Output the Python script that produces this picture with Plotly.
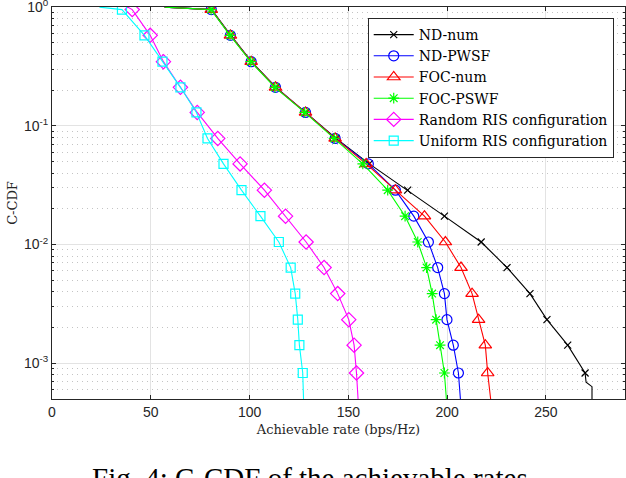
import plotly.graph_objects as go

# C-CDF levels at which the markers sit (shared by every curve)
ccdf_levels = [0.953, 0.578, 0.347, 0.211, 0.1296, 0.0783, 0.0478, 0.0287,
               0.01734, 0.0105, 0.0064, 0.00386, 0.00233, 0.00142, 0.000828]

# achievable rate (bps/Hz) at each level
nd_num_rate = [80.8, 90.5, 101.0, 113.4, 128.6, 143.8, 160.6, 180.0,
               198.6, 217.2, 230.3, 241.9, 250.5, 261.0, 269.8]
nd_pwsf_rate = [80.6, 90.3, 100.8, 113.1, 128.3, 143.3, 160.1, 173.8,
                183.1, 190.5, 195.2, 198.6, 199.9, 203.1, 205.7]
foc_num_rate = [80.6, 90.3, 100.8, 113.1, 128.3, 143.3, 159.0, 173.8,
                188.5, 199.1, 207.0, 212.6, 215.9, 219.3, 220.5]
foc_pswf_rate = [80.5, 90.1, 100.6, 112.8, 127.9, 142.8, 157.3, 169.9,
                 178.7, 185.1, 189.6, 192.4, 194.4, 196.4, 198.6]
random_rate = [40.6, 49.7, 56.4, 65.0, 73.5, 83.9, 95.2, 107.5,
               118.2, 128.6, 137.7, 144.6, 150.2, 152.9, 154.1]
uniform_rate = [35.4, 46.8, 55.9, 65.0, 73.1, 78.7, 86.8, 95.9,
                105.5, 114.8, 120.8, 123.1, 124.4, 125.2, 126.9]

# where each curve leaves the top (C-CDF = 1) and the bottom of the axes
start_rate = {'nd_num': 57.0, 'nd_pwsf': 57.0, 'foc_num': 57.0, 'foc_pswf': 57.0,
              'random': 38.3, 'uniform': 24.0}
end_rate = {'nd_num': 273.3, 'nd_pwsf': 206.7, 'foc_num': 222.0, 'foc_pswf': 199.6,
            'random': 154.9, 'uniform': 127.3}
# tail of ND-num (empirical steps near the bottom)
nd_num_tail_rate = [270.3, 273.3]
nd_num_tail_ccdf = [0.000692, 0.000635]

y_bottom = 5e-4

series = [
  ('ND-num', 'nd_num', nd_num_rate, '#000000', 'x-thin-open', 7),
  ('ND-PWSF', 'nd_pwsf', nd_pwsf_rate, '#0000ff', 'circle-open', 10),
  ('FOC-num', 'foc_num', foc_num_rate, '#ff0000', 'triangle-up-open', 11),
  ('FOC-PSWF', 'foc_pswf', foc_pswf_rate, '#00ff00', 'asterisk-open', 9),
  ('Random RIS configuration', 'random', random_rate, '#ff00ff', 'diamond-open', 11),
  ('Uniform RIS configuration', 'uniform', uniform_rate, '#00ffff', 'square-open', 9),
]

fig = go.Figure()

for name, key, rate, color, symbol, size in series:
  x = [start_rate[key]] + rate
  y = [1.0] + ccdf_levels
  if key == 'nd_num':
    x += nd_num_tail_rate
    y += nd_num_tail_ccdf
  x.append(end_rate[key])
  y.append(y_bottom)
  marker = dict(symbol=symbol, size=size, color=color,
                line=dict(color=color, width=1.2))
  # curve
  fig.add_trace(go.Scatter(
    x=x, y=y, mode='lines', showlegend=False, hoverinfo='skip',
    line=dict(color=color, width=1.1)
  ))
  # markers
  fig.add_trace(go.Scatter(
    name=name, x=rate, y=ccdf_levels, mode='markers',
    showlegend=False, marker=marker
  ))
  # legend entry (line + marker)
  fig.add_trace(go.Scatter(
    name=name, x=[None], y=[None], mode='lines+markers',
    line=dict(color=color, width=1.1), marker=marker
  ))

serif = 'DejaVu Serif'
sans = 'Liberation Sans'
axisColor = '#262626'

fig.update_layout(
  width=626,
  height=478,
  plot_bgcolor='white',
  paper_bgcolor='white',
  margin=dict(l=52, r=1, t=7, b=79, pad=0, autoexpand=False),
  font=dict(family=sans, size=13, color=axisColor),
  showlegend=True,
  legend=dict(
    x=0.551, xanchor='left',
    y=0.972, yanchor='top',
    bgcolor='white',
    bordercolor=axisColor,
    borderwidth=1,
    font=dict(family=serif, size=14, color='#000000'),
    tracegroupgap=0,
    itemwidth=40,
  ),
  xaxis=dict(
    range=[0, 290],
    tickvals=[0, 50, 100, 150, 200, 250],
    ticks='inside', ticklen=4, tickcolor=axisColor,
    showline=True, linecolor=axisColor, linewidth=1, mirror='allticks',
    showgrid=True, gridcolor='#e3e3e3', gridwidth=1,
    zeroline=False,
    automargin=False,
    ticklabeloverflow='allow',
    tickfont=dict(family=sans, size=14, color=axisColor),
    title=dict(text='Achievable rate (bps/Hz)', standoff=6,
               font=dict(family=serif, size=13, color=axisColor)),
  ),
  yaxis=dict(
    type='log',
    range=[-3.30103, 0.0008],
    tickvals=[0.001, 0.01, 0.1, 1],
    ticktext=['10<sup>-3</sup>', '10<sup>-2</sup>', '10<sup>-1</sup>', '10<sup>0</sup>'],
    ticks='inside', ticklen=4, tickcolor=axisColor,
    showline=True, linecolor=axisColor, linewidth=1, mirror='allticks',
    showgrid=True, gridcolor='#e3e3e3', gridwidth=1,
    zeroline=False,
    automargin=False,
    ticklabeloverflow='allow',
    tickfont=dict(family=sans, size=14, color=axisColor),
    minor=dict(ticks='inside', ticklen=2, tickcolor=axisColor, dtick='D1',
               showgrid=True, gridcolor='#c4c4c4', griddash='1px,4px', gridwidth=1),
    title=dict(text='C-CDF', standoff=3,
               font=dict(family=serif, size=13, color=axisColor)),
  ),
  annotations=[dict(
    text='Fig. 4: C-CDF of the achievable rates.',
    xref='paper', yref='paper', x=0.4555, y=-0.155,
    xanchor='center', yanchor='top', showarrow=False,
    font=dict(family='Liberation Serif', size=29, color='#000000'),
  )],
)

fig.write_html(
  'out.html',
  config={'displayModeBar': False},
  post_script="document.body.style.margin='0';document.body.style.overflow='hidden';"
)
